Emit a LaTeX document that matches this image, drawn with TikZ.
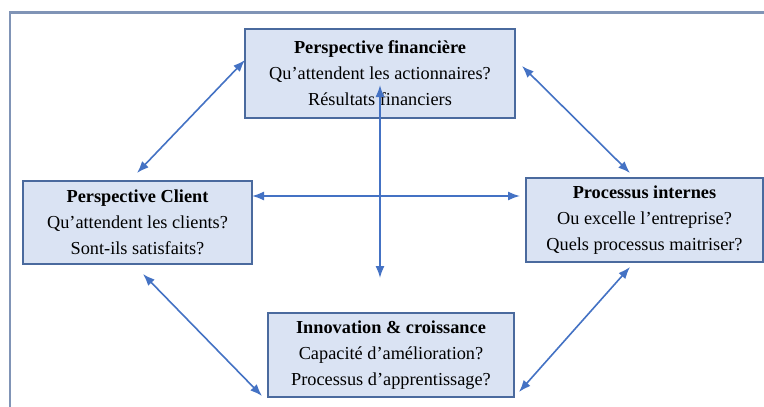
\documentclass[tikz,border=0pt]{standalone}
\usepackage{fontspec}
\setmainfont{Liberation Serif}
\usetikzlibrary{arrows.meta,calc}
\definecolor{boxfill}{HTML}{DAE3F3}
\definecolor{boxline}{HTML}{4A6A9E}
\definecolor{arrc}{HTML}{4472C4}
\definecolor{framec}{HTML}{8094B6}
\begin{document}
\begin{tikzpicture}[x=1pt,y=-1pt,
  panel/.style={draw=boxline,fill=boxfill,line width=1.6pt,inner sep=0pt,outer sep=0pt,
    align=center,font=\fontsize{18.3}{26}\selectfont},
  link/.style={draw=arrc,line width=1.6pt,{Latex[length=12pt,width=9pt]}-{Latex[length=12pt,width=9pt]}}]
\useasboundingbox (0,0) rectangle (764,407);
\fill[white] (0,0) rectangle (764,407);
\draw[framec,line width=2.6pt] (10,407) -- (10,12.5) -- (764,12.5);
\node[panel,minimum width=270pt,minimum height=89pt] (fin) at (380,73.5)
  {\textbf{Perspective financière}\\Qu’attendent les actionnaires?\\Résultats financiers};
\node[panel,minimum width=229pt,minimum height=83pt] (cli) at (137.5,222.5)
  {\textbf{Perspective Client}\\Qu’attendent les clients?\\Sont-ils satisfaits?};
\node[panel,minimum width=237pt,minimum height=84pt] (pro) at (644.5,220)
  {\textbf{Processus internes}\\Ou excelle l’entreprise?\\Quels processus maitriser?};
\node[panel,minimum width=246pt,minimum height=84pt] (inn) at (391,355)
  {\textbf{Innovation \& croissance}\\Capacité d’amélioration?\\Processus d’apprentissage?};
\draw[link] ($(cli.north west)+(114,-8)$) -- ($(fin.west)+(0,-13.5)$);
\draw[link] ($(fin.east)+(7,-7.5)$) -- ($(pro.north west)+(104,-5)$);
\draw[link] ($(cli.east)+(0,-26.5)$) -- ($(pro.west)+(-6,-24)$);
\draw[link] ($(fin.center)+(0,11.5)$) -- ($(inn.north)+(-11,-35)$);
\draw[link] ($(cli.south west)+(120,10)$) -- ($(inn.west)+(-6,41)$);
\draw[link] ($(inn.east)+(5,37)$) -- ($(pro.south west)+(104,5)$);
\end{tikzpicture}
\end{document}
